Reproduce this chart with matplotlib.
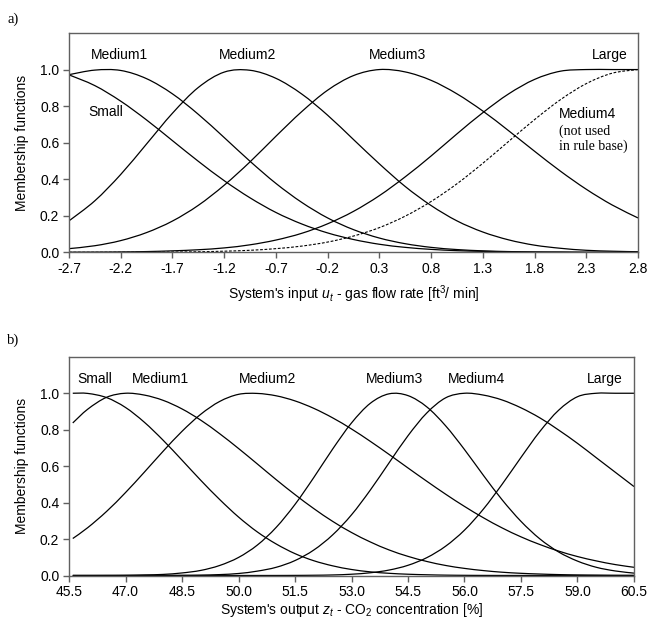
import matplotlib
matplotlib.use('Agg')
import matplotlib.pyplot as plt
from matplotlib.path import Path
from matplotlib.patches import PathPatch

plt.rcParams['font.family'] = ['Liberation Sans', 'DejaVu Sans']
plt.rcParams['mathtext.fontset'] = 'custom'
plt.rcParams['mathtext.rm'] = 'Liberation Sans'
plt.rcParams['mathtext.it'] = 'Liberation Sans:italic'

# ---------------- Panel a: system input u_t ----------------
u_grid = [-2.7, -2.45, -2.2, -1.95, -1.7, -1.45, -1.2, -0.95, -0.7, -0.45, -0.2,
          0.05, 0.3, 0.55, 0.8, 1.05, 1.3, 1.55, 1.8, 2.05, 2.3, 2.55, 2.8]
a_small = [0.971, 0.912, 0.827, 0.724, 0.611, 0.498, 0.392, 0.298, 0.218, 0.155, 0.106,
           0.070, 0.044, 0.027, 0.016, 0.009, 0.005, 0.003, 0.001, 0.001, 0.0, 0.0, 0.0]
a_medium1 = [0.972, 0.997, 0.995, 0.950, 0.867, 0.755, 0.628, 0.498, 0.377, 0.273, 0.188,
             0.124, 0.078, 0.047, 0.027, 0.015, 0.008, 0.004, 0.002, 0.001, 0.0, 0.0, 0.0]
a_medium2 = [0.172, 0.282, 0.426, 0.593, 0.761, 0.902, 0.986, 0.996, 0.952, 0.866, 0.750,
             0.617, 0.484, 0.360, 0.256, 0.172, 0.111, 0.068, 0.039, 0.022, 0.011, 0.006, 0.003]
a_medium3 = [0.020, 0.036, 0.064, 0.108, 0.171, 0.257, 0.367, 0.495, 0.635, 0.770, 0.887,
             0.967, 1.0, 0.987, 0.941, 0.867, 0.773, 0.665, 0.553, 0.444, 0.345, 0.259, 0.188]
a_large = [0.0005, 0.001, 0.002, 0.004, 0.008, 0.014, 0.024, 0.041, 0.067, 0.104, 0.156,
           0.224, 0.310, 0.413, 0.527, 0.648, 0.764, 0.867, 0.946, 0.991, 1.0, 1.0, 1.0]
a_medium4 = [0.0001, 0.0001, 0.0003, 0.0007, 0.0015, 0.003, 0.006, 0.011, 0.020, 0.034, 0.056,
             0.089, 0.135, 0.198, 0.278, 0.375, 0.487, 0.607, 0.726, 0.835, 0.923, 0.980, 1.0]
a_xticks = [-2.7, -2.2, -1.7, -1.2, -0.7, -0.2, 0.3, 0.8, 1.3, 1.8, 2.3, 2.8]
a_xticklabels = ['-2.7', '-2.2', '-1.7', '-1.2', '-0.7', '-0.2', '0.3', '0.8', '1.3', '1.8', '2.3', '2.8']

# ---------------- Panel b: system output z_t ----------------
z_grid = [45.6, 46.0, 46.5, 47.0, 47.5, 48.0, 48.5, 49.0, 49.5, 50.0, 50.5, 51.0, 51.5,
          52.0, 52.5, 53.0, 53.5, 54.0, 54.5, 55.0, 55.5, 56.0, 56.5, 57.0, 57.5, 58.0,
          58.5, 59.0, 59.5, 60.0, 60.5]
b_small = [1.0, 0.999, 0.976, 0.922, 0.841, 0.742, 0.633, 0.522, 0.417, 0.321, 0.239, 0.173,
           0.120, 0.081, 0.053, 0.033, 0.020, 0.012, 0.007, 0.004, 0.002, 0.001, 0.0005,
           0.0002, 0.0001, 0.0, 0.0, 0.0, 0.0, 0.0, 0.0]
b_medium1 = [0.837, 0.913, 0.978, 1.0, 0.990, 0.961, 0.914, 0.852, 0.778, 0.697, 0.612, 0.526,
             0.444, 0.367, 0.297, 0.236, 0.184, 0.140, 0.105, 0.077, 0.055, 0.039, 0.027,
             0.018, 0.012, 0.008, 0.005, 0.003, 0.002, 0.001, 0.0007]
b_medium2 = [0.203, 0.263, 0.352, 0.455, 0.567, 0.682, 0.791, 0.885, 0.955, 0.994, 0.999, 0.986,
             0.958, 0.917, 0.865, 0.804, 0.736, 0.664, 0.590, 0.517, 0.446, 0.379, 0.317,
             0.261, 0.212, 0.170, 0.134, 0.104, 0.080, 0.060, 0.045]
b_medium3 = [0.0001, 0.0001, 0.0004, 0.001, 0.003, 0.006, 0.014, 0.028, 0.055, 0.099, 0.167,
             0.264, 0.390, 0.538, 0.694, 0.837, 0.945, 0.997, 0.987, 0.925, 0.821, 0.691,
             0.550, 0.415, 0.297, 0.201, 0.129, 0.079, 0.045, 0.025, 0.013]
b_medium4 = [0.0, 0.0, 0.0, 0.0, 0.0001, 0.0003, 0.0009, 0.002, 0.005, 0.011, 0.024, 0.045,
             0.082, 0.140, 0.223, 0.333, 0.469, 0.619, 0.767, 0.892, 0.975, 1.0, 0.990,
             0.963, 0.920, 0.865, 0.798, 0.725, 0.646, 0.567, 0.488]
b_large = [0.0, 0.0, 0.0, 0.0, 0.0, 0.0, 0.0, 0.0, 0.0, 0.0, 0.0001, 0.0002, 0.0006, 0.0014,
           0.003, 0.007, 0.015, 0.030, 0.056, 0.098, 0.161, 0.249, 0.364, 0.501, 0.648,
           0.790, 0.907, 0.981, 1.0, 1.0, 1.0]
b_xticks = [45.5, 47.0, 48.5, 50.0, 51.5, 53.0, 54.5, 56.0, 57.5, 59.0, 60.5]
b_xticklabels = ['45.5', '47.0', '48.5', '50.0', '51.5', '53.0', '54.5', '56.0', '57.5', '59.0', '60.5']

y_ticks = [0.0, 0.2, 0.4, 0.6, 0.8, 1.0]
y_ticklabels = ['0.0', '0.2', '0.4', '0.6', '0.8', '1.0']

W, H = 647, 623
fig = plt.figure(figsize=(W / 100, H / 100), dpi=100)

frame_col = '#606060'
fs = 10
lw = 0.9


def smooth_line(ax, xs, ys, **kw):
    """Draw the sampled curve as a smooth Catmull-Rom (cubic Bezier) path."""
    pts = list(zip(xs, ys))
    n = len(pts)
    verts = [pts[0]]
    codes = [Path.MOVETO]
    for i in range(n - 1):
        p0 = pts[i - 1] if i > 0 else pts[i]
        p1 = pts[i]
        p2 = pts[i + 1]
        p3 = pts[i + 2] if i + 2 < n else pts[i + 1]
        c1 = (p1[0] + (p2[0] - p0[0]) / 6.0, p1[1] + (p2[1] - p0[1]) / 6.0)
        c2 = (p2[0] - (p3[0] - p1[0]) / 6.0, p2[1] - (p3[1] - p1[1]) / 6.0)
        verts += [c1, c2, p2]
        codes += [Path.CURVE4] * 3
    patch = PathPatch(Path(verts, codes), facecolor='none', edgecolor='black', **kw)
    ax.add_patch(patch)


def style_axes(ax, xlim, xticks, xticklabels):
    ax.set_xlim(*xlim)
    ax.set_ylim(0, 1.2)
    ax.set_xticks(xticks)
    ax.set_xticklabels(xticklabels, fontsize=fs)
    ax.set_yticks(y_ticks)
    ax.set_yticklabels(y_ticklabels, fontsize=fs)
    ax.tick_params(direction='out', length=4, width=1, color=frame_col, pad=3)
    for s in ax.spines.values():
        s.set_color(frame_col)
        s.set_linewidth(1.0)
        s.set_zorder(3)
    ax.set_ylabel('Membership functions', fontsize=fs, labelpad=8)


# Panel a
axa = fig.add_axes([69 / W, (H - 252.3) / H, 569 / W, 219.3 / H])
for series in (a_small, a_medium1, a_medium2, a_medium3, a_large):
    smooth_line(axa, u_grid, series, lw=lw)
smooth_line(axa, u_grid, a_medium4, lw=0.8, linestyle=(0, (2.5, 1.5)))
style_axes(axa, (-2.7, 2.8), a_xticks, a_xticklabels)
axa.set_xlabel("System's input $u_t$ - gas flow rate [ft$^3$/ min]", fontsize=fs, labelpad=5)

axa.text(-2.21, 1.08, 'Medium1', ha='center', va='center', fontsize=fs)
axa.text(-0.97, 1.08, 'Medium2', ha='center', va='center', fontsize=fs)
axa.text(0.48, 1.08, 'Medium3', ha='center', va='center', fontsize=fs)
axa.text(2.70, 1.08, 'Large', ha='right', va='center', fontsize=fs)
axa.text(-2.34, 0.765, 'Small', ha='center', va='center', fontsize=fs)
axa.text(2.04, 0.758, 'Medium4', ha='left', va='center', fontsize=fs)
axa.text(2.04, 0.665, '(not used', ha='left', va='center', fontsize=fs,
         family='Liberation Serif')
axa.text(2.04, 0.579, 'in rule base)', ha='left', va='center', fontsize=fs,
         family='Liberation Serif')

# Panel b
axb = fig.add_axes([69 / W, (H - 575.5) / H, 565 / W, 218.7 / H])
for series in (b_small, b_medium1, b_medium2, b_medium3, b_medium4, b_large):
    smooth_line(axb, z_grid, series, lw=lw)
style_axes(axb, (45.5, 60.5), b_xticks, b_xticklabels)
axb.set_xlabel("System's output $z_t$ - CO$_2$ concentration [%]", fontsize=fs, labelpad=1)

axb.text(46.19, 1.078, 'Small', ha='center', va='center', fontsize=fs)
axb.text(47.92, 1.078, 'Medium1', ha='center', va='center', fontsize=fs)
axb.text(50.76, 1.078, 'Medium2', ha='center', va='center', fontsize=fs)
axb.text(54.15, 1.078, 'Medium3', ha='center', va='center', fontsize=fs)
axb.text(56.33, 1.078, 'Medium4', ha='center', va='center', fontsize=fs)
axb.text(59.73, 1.078, 'Large', ha='center', va='center', fontsize=fs)

fig.text(7 / W, 1 - 19 / H, 'a)', ha='left', va='center', fontsize=10.5, family='Liberation Serif')
fig.text(7 / W, 1 - 340 / H, 'b)', ha='left', va='center', fontsize=10.5, family='Liberation Serif')

fig.savefig('out.png', dpi=100)
